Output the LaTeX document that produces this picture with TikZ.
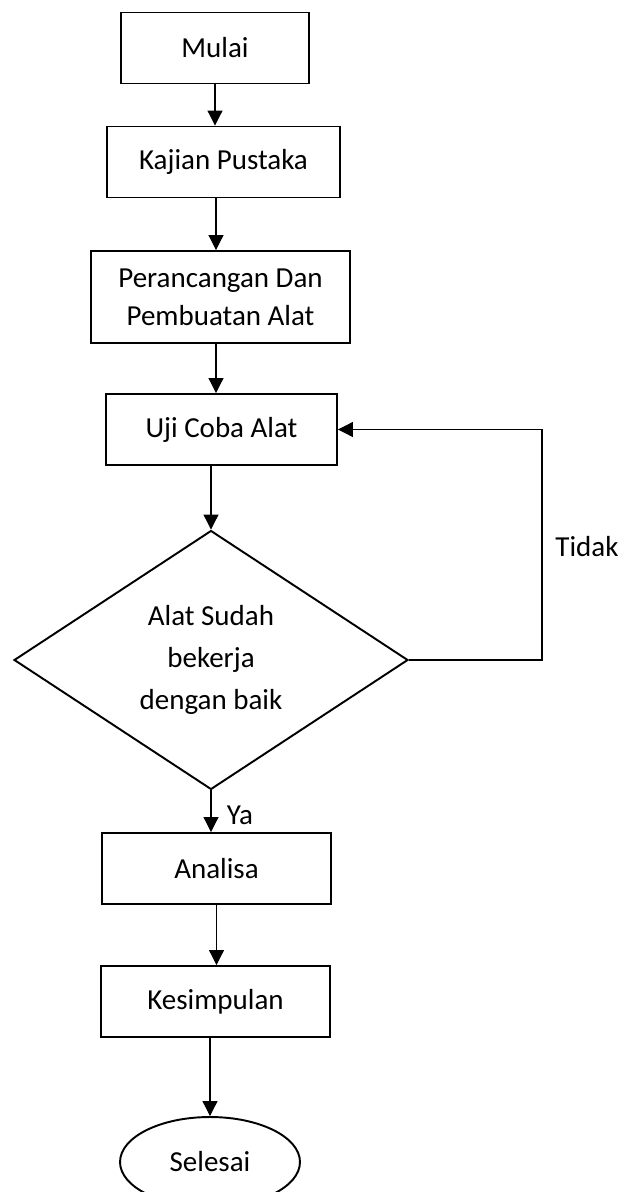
\documentclass[tikz,border=0pt]{standalone}
\usepackage{fontspec}
\setmainfont{Carlito}
\usepackage{tikz}
\usetikzlibrary{shapes.geometric}
\usetikzlibrary{arrows.meta}

\begin{document}
\begin{tikzpicture}[x=0.02cm, y=-0.02cm, font=\fontsize{16.5}{21.5}\selectfont]
    \tikzset{box/.style={
      draw, rectangle, line width=1.1pt, align=center,
      minimum width=4.6cm, minimum height=1.42cm, inner sep=0pt}}
    \tikzset{link/.style={-{Triangle[length=0.3cm, width=0.3cm]}, line width=0.6pt}}

    \useasboundingbox (0, 0) rectangle (624, 1192);

    % Steps
    \path (215, 48) node [box, minimum width=3.76cm] (mulai) {Mulai};
    \path (223.5, 162) node [box, minimum width=4.66cm] (kajian) {Kajian Pustaka};
    \path (220.5, 297) node [box, minimum width=5.18cm, minimum height=1.84cm]
          (rancang) {Perancangan Dan\\Pembuatan Alat};
    \path (221.5, 429.5) node [box, minimum width=4.62cm] (uji) {Uji Coba Alat};

    % Decision
    \path (211, 660) node [draw, diamond, line width=1.1pt, inner sep=0pt,
          minimum width=7.88cm, minimum height=5.18cm, align=center,
          font=\fontsize{16.5}{24}\selectfont]
          (cek) {Alat Sudah\\bekerja\\dengan baik};

    \path (216.5, 868.5) node [box, minimum width=4.58cm] (analisa) {Analisa};
    \path (215.5, 1001.5) node [box, minimum width=4.58cm] (simpul) {Kesimpulan};
    \path (210, 1162) node [draw, ellipse, line width=1.1pt,
          minimum width=3.6cm, minimum height=1.8cm] (selesai) {Selesai};

    % Labels
    \path (240, 815) node (ya) {Ya};
    \path (587, 547) node (tidak) {Tidak};

    % Anchor for the way back
    \path (542, 429.5) coordinate (balik);

    % Edges
    \draw [link] (mulai.south) -- (mulai.south |- kajian.north);
    \draw [link] ([xshift=-0.15cm]kajian.south)
          -- ([xshift=-0.15cm]kajian.south |- rancang.north);
    \draw [link] ([xshift=-0.09cm]rancang.south)
          -- ([xshift=-0.09cm]rancang.south |- uji.north);
    \draw [link] (uji.south -| cek.north) -- (cek.north);
    \draw [link] (cek.south) -- (cek.south |- analisa.north);
    \draw [link] (analisa.south) -- (analisa.south |- simpul.north);
    \draw [link] (selesai.north |- simpul.south) -- (selesai.north);
    \draw [link] (cek.east) -| (balik) -- (uji.east);
  \end{tikzpicture}
\end{document}
